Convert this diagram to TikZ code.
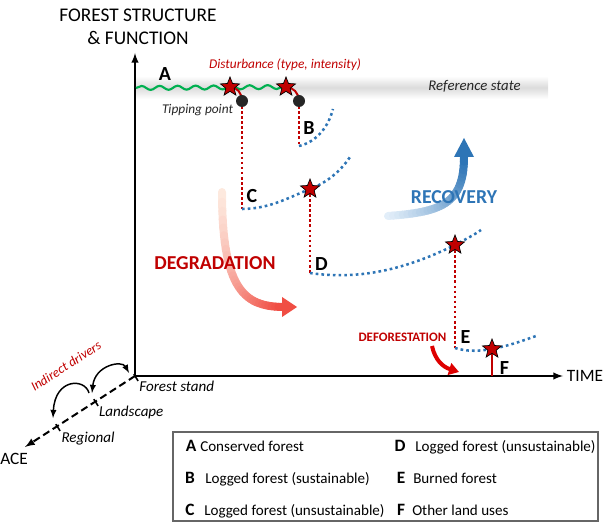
\documentclass[tikz,border=0pt]{standalone}
\usepackage{fontspec}
\setmainfont{Carlito}
\usepackage{xcolor}
\usetikzlibrary{shapes.geometric}
\usetikzlibrary{decorations.pathmorphing, arrows.meta}
\definecolor{darkred}{RGB}{192,0,0}
\definecolor{brightred}{RGB}{222,0,0}
\definecolor{recblue}{RGB}{46,117,182}
\definecolor{recpale}{RGB}{226,238,249}
\definecolor{degred}{RGB}{240,78,68}
\definecolor{degpale}{RGB}{253,233,222}
\definecolor{wavegreen}{RGB}{0,176,80}
\definecolor{dotgray}{RGB}{38,38,38}
\tikzset{
	disturb/.style={star, star points=5, star point ratio=2.3, minimum size=15pt, inner sep=0pt,
			fill=darkred, draw=black, line width=0.5pt},
	tipdot/.style={circle, fill=dotgray, minimum size=9pt, inner sep=0pt},
	dropline/.style={color=darkred, line width=1.9pt, dash pattern=on 1.9pt off 1.9pt},
	recovline/.style={color=recblue, line width=1.9pt, dash pattern=on 2pt off 2.3pt},
	axisline/.style={line width=1.5pt},
	spaceline/.style={line width=1.5pt, dash pattern=on 5.5pt off 3pt},
	wave/.style={color=wavegreen, line width=1.6pt, decorate,
			decoration={snake, amplitude=1.5pt, segment length=13.5pt}},
	tiparc/.style={color=darkred, line width=1.5pt},
	statelabel/.style={font=\fontsize{15}{18}\selectfont\bfseries, anchor=base, inner sep=0pt},
	italabel/.style={font=\fontsize{11.3}{13.5}\selectfont\itshape, anchor=base, inner sep=0pt},
	bigword/.style={font=\fontsize{14.8}{17.8}\selectfont\bfseries, anchor=base, inner sep=0pt},
	legendletter/.style={font=\fontsize{13}{15.6}\selectfont\bfseries, anchor=base, inner sep=0pt},
	legendtext/.style={font=\fontsize{11.3}{13.5}\selectfont, anchor=base west, inner sep=0pt}
}

\begin{document}
\begin{tikzpicture}[x=0.75pt, y=-0.75pt]
	\useasboundingbox (0,0) rectangle (607,527);

	\coordinate (O) at (135,376);
	\coordinate (ytip) at (135,53);
	\coordinate (xtip) at (563,376);
	\coordinate (ztip) at (25,447);
	\coordinate (land) at (95,401);
	\coordinate (reg) at (57,426);

	\coordinate (s1) at (230,87);
	\coordinate (s2) at (286,87);
	\coordinate (d1) at (242,101);
	\coordinate (d2) at (299,101);
	\coordinate (b0) at (299,146);
	\coordinate (c0) at (242,209);
	\coordinate (sC) at (310,189);
	\coordinate (d0) at (310,273);
	\coordinate (sD) at (455,245);
	\coordinate (e0) at (455,348);
	\coordinate (sF) at (492,349);

	\shade[top color=white, bottom color=white, middle color=gray!28] (135,76) rectangle (548,99);
	\node[italabel, font=\fontsize{11.1}{13.3}\selectfont\itshape, color=dotgray] (refstate) at (474.5,90.7) {Reference state};

	\node[font=\fontsize{14.5}{17.4}\selectfont, anchor=base, inner sep=0pt] (title1) at (138,21.7) {FOREST STRUCTURE};
	\node[font=\fontsize{14.5}{17.4}\selectfont, anchor=base, inner sep=0pt] (title2) at (138,45) {\& FUNCTION};

	\draw[axisline,-latex] (O) -- (ytip);
	\draw[axisline,-latex] (O) -- (xtip);
	\draw[spaceline,-latex] (O) -- (ztip);
	\foreach \p in {O,land,reg}
		\draw[line width=1.2pt] (\p) ++(-1.2,-1.8) -- ++(4.3,6.7);
	\node[font=\fontsize{13}{15.6}\selectfont, anchor=base, inner sep=0pt] (time) at (585,381.7) {TIME};
	\node[font=\fontsize{13}{15.6}\selectfont, anchor=base west, inner sep=0pt] (space) at (0,464) {ACE};

	\node[italabel] (stand) at (176.7,391.7) {Forest stand};
	\node[italabel] (landtext) at (131.3,416.7) {Landscape};
	\node[italabel] (regtext) at (88,442.5) {Regional};
	\node[font=\fontsize{10}{12}\selectfont\itshape, color=darkred, rotate=33, inner sep=0pt] (drivers) at (66,366) {Indirect drivers};
	\draw[line width=1.1pt, latex-latex] (92,393) .. controls (95,365) and (122,360) .. (129,373);
	\draw[line width=1.1pt, -latex] (89,393) .. controls (85,378) and (55,378) .. (53,418);

	\draw[wave] (136,88) -- (s2);
	\draw[tiparc] (s1) .. controls (237,87) and (242,93) .. (d1);
	\draw[tiparc] (s2) .. controls (293,87) and (299,93) .. (d2);
	\draw[dropline] (d1) -- (c0);
	\draw[dropline] (d2) -- (b0);
	\draw[dropline] (sC) -- (d0);
	\draw[dropline] (sD) -- (e0);
	\draw[color=darkred, line width=1.9pt] (sF) -- (sF |- O);

	\draw[recovline] (b0) .. controls (316,142) and (328,128) .. (333,109);
	\draw[recovline] (c0) .. controls (270,209) and (292,196) .. (sC) .. controls (326,183) and (340,172) .. (350,157);
	\draw[recovline] (d0) .. controls (370,282) and (420,262) .. (sD) .. controls (466,239) and (474,235) .. (481,230);
	\draw[recovline] (e0) .. controls (468,352) and (480,351) .. (sF) .. controls (508,346) and (522,341) .. (536,336);

	\node[tipdot] (dot1) at (d1) {};
	\node[tipdot] (dot2) at (d2) {};
	\node[disturb] (star1) at (s1) {};
	\node[disturb] (star2) at (s2) {};
	\node[disturb] (starC) at (sC) {};
	\node[disturb] (starD) at (sD) {};
	\node[disturb] (starF) at (sF) {};

	\node[font=\fontsize{10}{12}\selectfont\itshape, color=darkred, anchor=base, inner sep=0pt] (disturbance) at (285,68.3) {Disturbance (type, intensity)};
	\node[font=\fontsize{10}{12}\selectfont\itshape, color=dotgray, anchor=base, inner sep=0pt] (tipping) at (197.5,113.3) {Tipping point};

	\node[statelabel] (labA) at (165,80.7) {A};
	\node[statelabel] (labB) at (309,135) {B};
	\node[statelabel] (labC) at (252,203) {C};
	\node[statelabel] (labD) at (321.5,271) {D};
	\node[statelabel] (labE) at (465.5,344) {E};
	\node[statelabel] (labF) at (504.5,374) {F};

	\coordinate (dg0) at (222,192);
	\coordinate (dg1) at (222,292);
	\coordinate (dg2) at (246,306);
	\coordinate (dg3) at (282,307);
	\coordinate (dgt) at (297,307);
	\foreach \k [evaluate=\k as \t using \k/30] in {0,...,30}
		\path (dg0) .. controls (dg1) and (dg2) .. (dg3) coordinate[pos=\t] (dgp\k);
	\foreach \k [evaluate=\k as \j using int(\k+1), evaluate=\k as \c using int(100*\k/29)] in {0,...,29}
		\draw[line width=6pt, line cap=round, color=degred!\c!degpale] (dgp\k) -- (dgp\j);
	\fill[degred] (dg3) ++(0,-10) -- ++(0,20) -- (dgt) -- cycle;
	\node[bigword, color=darkred] (degradation) at (215,270) {DEGRADATION};

	\coordinate (rc0) at (388,216);
	\coordinate (rc1) at (440,212);
	\coordinate (rc2) at (464,205);
	\coordinate (rc3) at (464,157);
	\coordinate (rct) at (464,138);
	\foreach \k [evaluate=\k as \t using \k/30] in {0,...,30}
		\path (rc0) .. controls (rc1) and (rc2) .. (rc3) coordinate[pos=\t] (rcp\k);
	\foreach \k [evaluate=\k as \j using int(\k+1), evaluate=\k as \c using int(100*\k/29)] in {0,...,29}
		\draw[line width=6pt, line cap=round, color=recblue!\c!recpale] (rcp\k) -- (rcp\j);
	\fill[recblue] (rc3) ++(-10,0) -- ++(20,0) -- (rct) -- cycle;
	\node[bigword, color=recblue] (recovery) at (454,204) {RECOVERY};

	\node[font=\fontsize{9.7}{11.6}\selectfont\bfseries, color=darkred, anchor=base, inner sep=0pt] (deforest) at (402.5,341.7) {DEFORESTATION};
	\coordinate (dfs) at (432,346);
	\coordinate (dft) at (459,372);
	\draw[color=brightred, line width=3pt, -{Triangle[length=7.5pt, width=9pt]}] (dfs) .. controls (435,360) and (443,367) .. (dft);

	\draw[color=gray!80!black, line width=0.8pt] (173,432) rectangle (598,521);
	\node[legendletter] (legA) at (191,451) {A};
	\node[legendtext] (legAt) at (200,451) {Conserved forest};
	\node[legendletter] (legB) at (190,483) {B};
	\node[legendtext] (legBt) at (205,483) {Logged forest (sustainable)};
	\node[legendletter] (legC) at (190,515) {C};
	\node[legendtext] (legCt) at (204,515) {Logged forest (unsustainable)};
	\node[legendletter] (legD) at (400,451) {D};
	\node[legendtext] (legDt) at (415,451) {Logged forest (unsustainable)};
	\node[legendletter] (legE) at (401,483) {E};
	\node[legendtext] (legEt) at (413,483) {Burned forest};
	\node[legendletter] (legF) at (401,515) {F};
	\node[legendtext] (legFt) at (412,515) {Other land uses};
\end{tikzpicture}
\end{document}
